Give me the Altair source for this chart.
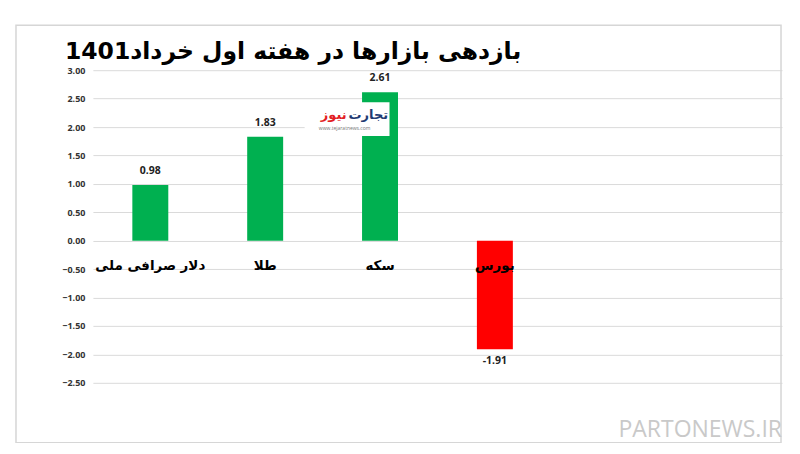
import altair as alt
import pandas as pd

categories = ["دلار صرافی ملی", "طلا", "سکه", "بورس"]
values = [0.98, 1.83, 2.61, -1.91]
slots = categories + [" ", "  "]
y_ticks = [3.0, 2.5, 2.0, 1.5, 1.0, 0.5, 0.0, -0.5, -1.0, -1.5, -2.0, -2.5]
title_text = "بازدهی بازارها در هفته اول خرداد1401"
watermark = "PARTONEWS.IR"

df = pd.DataFrame({
    "cat": categories,
    "value": values,
    "label": [f"{v:.2f}" for v in values],
    "sign": ["pos" if v >= 0 else "neg" for v in values],
})
one = pd.DataFrame({"a": [0]})

W, H = 690, 313
xs = alt.X("cat:N", scale=alt.Scale(domain=slots, paddingInner=0, paddingOuter=0), axis=None)
ys = alt.Y("value:Q", scale=alt.Scale(domain=[-2.5, 3.0], nice=False, zero=False),
           axis=alt.Axis(values=y_ticks, format=".2f", title=None, domain=False, ticks=False,
                         grid=True, gridColor="#dadada", gridWidth=1, labelOverlap=False,
                         labelFont="Open Sans", labelFontWeight="bold", labelFontSize=9,
                         labelColor="#333333", labelPadding=8))

base = alt.Chart(df)

border = alt.Chart(one).mark_rect(fillOpacity=0, stroke="#d6d6d6", strokeWidth=1.5).encode(
    x=alt.value(-77), x2=alt.value(689), y=alt.value(-45), y2=alt.value(373))

bars = base.mark_bar(size=36).encode(
    x=xs, y=ys,
    color=alt.Color("sign:N", scale=alt.Scale(domain=["pos", "neg"], range=["#00b050", "#ff0000"]), legend=None),
)

pos_lab = base.transform_filter("datum.value >= 0").mark_text(
    baseline="bottom", dy=-9, font="Open Sans", fontWeight="bold", fontSize=10.5, color="#222222"
).encode(x=xs, y=ys, text="label:N")
neg_lab = base.transform_filter("datum.value < 0").mark_text(
    baseline="top", dy=7, font="Open Sans", fontWeight="bold", fontSize=10.5, color="#222222"
).encode(x=xs, y=ys, text="label:N")

cat_lab = base.mark_text(
    baseline="middle", font="DejaVu Sans", fontWeight="bold", fontSize=13.5, color="#000000"
).encode(x=xs, y=alt.value(196), text="cat:N")

logo_box = alt.Chart(one).mark_rect(fill="white").encode(
    x=alt.value(212), x2=alt.value(297), y=alt.value(32), y2=alt.value(66))
logo_red = alt.Chart(one).mark_text(
    text="نیوز", align="right", baseline="middle", font="DejaVu Sans", fontWeight="bold",
    fontSize=13, color="#e31e24").encode(x=alt.value(254), y=alt.value(45))
logo_blue = alt.Chart(one).mark_text(
    text="تجارت", align="left", baseline="middle", font="DejaVu Sans", fontWeight="bold",
    fontSize=13, color="#1f3b73").encode(x=alt.value(256), y=alt.value(45))
logo_url = alt.Chart(one).mark_text(
    text="www.tejaratnews.com", align="center", baseline="middle", font="Open Sans",
    fontSize=5, color="#777777").encode(x=alt.value(252), y=alt.value(58))

title = alt.Chart(one).mark_text(
    text=title_text, align="left", baseline="middle", font="DejaVu Sans", fontWeight="bold",
    fontSize=23.5, color="#000000").encode(x=alt.value(-28), y=alt.value(-18))

wm = alt.Chart(one).mark_text(
    text=watermark, align="right", baseline="middle", font="Open Sans",
    fontSize=23, color="#c9c9c9").encode(x=alt.value(690), y=alt.value(360))

chart = alt.layer(border, bars, pos_lab, neg_lab, cat_lab, logo_box, logo_red, logo_blue,
                  logo_url, title, wm).properties(
    width=W, height=H, autosize="none", background="white",
    padding={"left": 85, "top": 62, "right": 10, "bottom": 60},
).configure_view(strokeWidth=0, stroke="transparent").configure_axis(labelOverlap=False)

chart.save("out.html", embed_options={"renderer": "svg", "actions": False})
